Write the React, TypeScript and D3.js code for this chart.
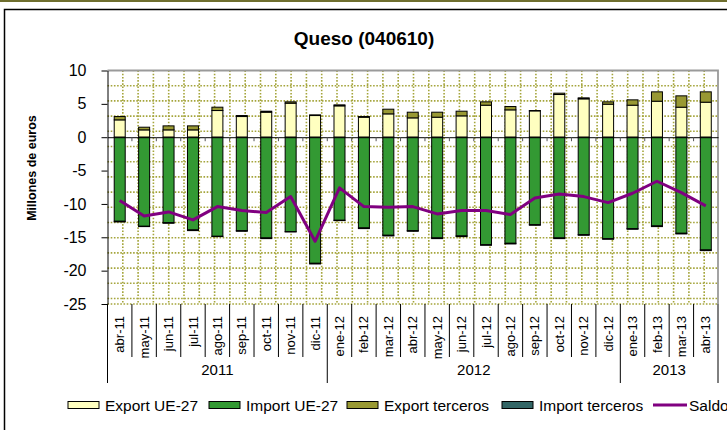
import * as d3 from 'd3';
import React, { useRef, useEffect } from 'react';

const months = ["abr-11", "may-11", "jun-11", "jul-11", "ago-11", "sep-11", "oct-11", "nov-11", "dic-11",
    "ene-12", "feb-12", "mar-12", "abr-12", "may-12", "jun-12", "jul-12", "ago-12", "sep-12", "oct-12", "nov-12", "dic-12",
    "ene-13", "feb-13", "mar-13", "abr-13"];

const exportUE = [2.6, 1.1, 1.1, 1.1, 4.0, 3.1, 3.75, 5.1, 3.25, 4.7, 3.0, 3.5, 2.9, 3.0, 3.2, 4.8, 4.1, 3.95, 6.4, 5.75, 4.95, 4.8, 5.4, 4.5, 5.25];
const importUE = [-12.6, -13.35, -12.8, -13.9, -14.85, -14.0, -15.1, -14.15, -18.9, -12.45, -13.6, -14.7, -14.0, -15.1, -14.8, -16.1, -15.9, -13.1, -15.1, -14.6, -15.2, -13.7, -13.3, -14.4, -16.9];
const exportTer = [0.5, 0.4, 0.6, 0.6, 0.5, 0.15, 0.15, 0.2, 0.1, 0.15, 0.1, 0.7, 0.85, 0.75, 0.7, 0.5, 0.5, 0.05, 0.2, 0.15, 0.35, 0.8, 1.4, 1.7, 1.55];
const importTer = [-0.1, -0.05, -0.1, -0.1, -0.05, -0.1, -0.1, -0.05, -0.1, -0.05, -0.1, -0.1, -0.1, -0.1, -0.1, -0.1, -0.1, -0.1, -0.1, -0.1, -0.1, -0.1, -0.1, -0.1, -0.1];
const saldo = [-9.5, -11.8, -11.2, -12.4, -10.4, -11.0, -11.3, -8.9, -15.6, -7.6, -10.4, -10.5, -10.4, -11.5, -11.0, -11.0, -11.6, -9.1, -8.5, -8.9, -9.8, -8.4, -6.6, -8.3, -10.3];

const years = [
    { label: "2011", from: 0, to: 9 },
    { label: "2012", from: 9, to: 21 },
    { label: "2013", from: 21, to: 25 },
];
const yTicks = [-25, -20, -15, -10, -5, 0, 5, 10];

const legendItems = [
    { label: "Export UE-27", color: "#FFFFC0", x: 68 },
    { label: "Import UE-27", color: "#339933", x: 209 },
    { label: "Export terceros", color: "#999933", x: 347 },
    { label: "Import terceros", color: "#336666", x: 502 },
];

const FONT = "'Liberation Sans', Arial, sans-serif";

function App() {
    const ref = useRef(null);

    useEffect(() => {
        const svg = d3.select(ref.current);
        svg.selectAll('*').remove();
        draw(svg);
    }, []);

    const draw = (svg) => {
        const left = 107.5, right = 718, top = 70.5, bottom = 304;

        const x = d3.scaleBand().domain(months).range([left, right]).padding(0);
        const y = d3.scaleLinear().domain([-25, 10]).range([bottom, top]);
        const bw = x.bandwidth();
        const barW = bw * 0.45;

        // outer frame
        svg.append("rect").attr("x", 0).attr("y", 0).attr("width", 727).attr("height", 2).attr("fill", "#6E6E2E");
        svg.append("rect")
            .attr("x", 4.5).attr("y", 9.5).attr("width", 760).attr("height", 460)
            .attr("fill", "white").attr("stroke", "black").attr("stroke-width", 1.5);

        // title
        svg.append("text")
            .attr("x", 364).attr("y", 45)
            .attr("text-anchor", "middle")
            .attr("font-family", FONT).attr("font-weight", "bold").attr("font-size", 19)
            .text("Queso (040610)");

        // dotted pattern of the plot area
        const grid = svg.append("g")
            .attr("stroke", "#A5A53C").attr("stroke-width", 1.6)
            .attr("stroke-dasharray", "1.6,1.6");
        d3.range(left + 15.3, right - 2, 15.3).forEach(gx => {
            grid.append("line").attr("x1", gx).attr("x2", gx).attr("y1", top).attr("y2", bottom);
        });
        d3.range(top + 15.2, bottom + 1, 15.2).forEach(gy => {
            grid.append("line").attr("x1", left).attr("x2", right).attr("y1", gy).attr("y2", gy);
        });
        grid.append("line").attr("x1", left).attr("x2", right).attr("y1", bottom).attr("y2", bottom);

        // plot border (top/right)
        svg.append("path")
            .attr("d", `M${left},${top}H${right}V${bottom}`)
            .attr("fill", "none").attr("stroke", "#9A9A9A").attr("stroke-width", 1.8);

        // bars
        const bars = svg.append("g").attr("stroke", "black").attr("stroke-width", 1);
        months.forEach((m, i) => {
            const bx = x(m) + (bw - barW) / 2;
            const segs = [
                { y0: 0, y1: exportUE[i], c: "#FFFFC0" },
                { y0: exportUE[i], y1: exportUE[i] + exportTer[i], c: "#999933" },
                { y0: 0, y1: importUE[i], c: "#339933" },
                { y0: importUE[i], y1: importUE[i] + importTer[i], c: "#336666" },
            ];
            segs.forEach(s => {
                bars.append("rect")
                    .attr("x", bx)
                    .attr("y", y(Math.max(s.y0, s.y1)))
                    .attr("width", barW)
                    .attr("height", Math.abs(y(s.y0) - y(s.y1)))
                    .attr("fill", s.c);
            });
        });

        // zero line with category ticks
        svg.append("g")
            .attr("transform", `translate(0,${y(0)})`)
            .call(d3.axisBottom(x).tickValues([]).tickSizeOuter(0))
            .call(g => g.select(".domain").attr("stroke", "black"));
        svg.append("g")
            .selectAll("line")
            .data(d3.range(1, months.length))
            .enter().append("line")
            .attr("x1", i => left + i * x.step()).attr("x2", i => left + i * x.step())
            .attr("y1", y(0)).attr("y2", y(0) + 4)
            .attr("stroke", "#555");

        // saldo line
        const line = d3.line()
            .x((d, i) => x(months[i]) + bw / 2)
            .y(d => y(d));
        svg.append("path")
            .datum(saldo)
            .attr("d", line)
            .attr("fill", "none")
            .attr("stroke", "#800080")
            .attr("stroke-width", 3)
            .attr("stroke-linejoin", "round");

        // y axis
        const yAxis = svg.append("g")
            .attr("transform", `translate(${left},0)`)
            .call(d3.axisLeft(y).tickValues(yTicks).tickSize(6).tickSizeOuter(0).tickPadding(15).tickFormat(d => String(d)));
        yAxis.select(".domain").attr("stroke", "black");
        yAxis.selectAll("text")
            .attr("font-family", FONT).attr("font-size", 16).attr("fill", "black");

        svg.append("text")
            .attr("transform", "translate(36,168) rotate(-90)")
            .attr("text-anchor", "middle")
            .attr("font-family", FONT).attr("font-weight", "bold").attr("font-size", 12.5)
            .text("Millones de euros");

        // category labels and separators
        const cat = svg.append("g");
        d3.range(0, months.length + 1).forEach(i => {
            const isYear = years.some(yr => yr.from === i) || i === months.length;
            cat.append("line")
                .attr("x1", left + i * x.step()).attr("x2", left + i * x.step())
                .attr("y1", bottom).attr("y2", isYear ? 383 : 357)
                .attr("stroke", "black");
        });
        cat.selectAll("text.month")
            .data(months)
            .enter().append("text")
            .attr("class", "month")
            .attr("transform", d => `translate(${x(d) + bw / 2},316) rotate(-90)`)
            .attr("dy", "0.35em")
            .attr("text-anchor", "end")
            .attr("font-family", FONT).attr("font-size", 13)
            .text(d => d);
        cat.selectAll("text.year")
            .data(years)
            .enter().append("text")
            .attr("class", "year")
            .attr("x", d => left + (d.from + d.to) / 2 * x.step())
            .attr("y", 375)
            .attr("text-anchor", "middle")
            .attr("font-family", FONT).attr("font-size", 15)
            .text(d => d.label);

        // legend
        const lg = svg.append("g");
        legendItems.forEach(it => {
            lg.append("rect")
                .attr("x", it.x).attr("y", 401.5).attr("width", 31).attr("height", 7)
                .attr("fill", it.color).attr("stroke", "black");
            lg.append("text")
                .attr("x", it.x + 37).attr("y", 410.5)
                .attr("font-family", FONT).attr("font-size", 15.5)
                .text(it.label);
        });
        lg.append("line")
            .attr("x1", 653).attr("x2", 687).attr("y1", 405).attr("y2", 405)
            .attr("stroke", "#800080").attr("stroke-width", 3);
        lg.append("text")
            .attr("x", 689).attr("y", 410.5)
            .attr("font-family", FONT).attr("font-size", 15.5)
            .text("Saldo");
    };

    return (
        <svg ref={ref} width={727} height={430}
             style={{ position: "absolute", left: 0, top: 0, background: "white" }}>
        </svg>
    );
}

export default App;
